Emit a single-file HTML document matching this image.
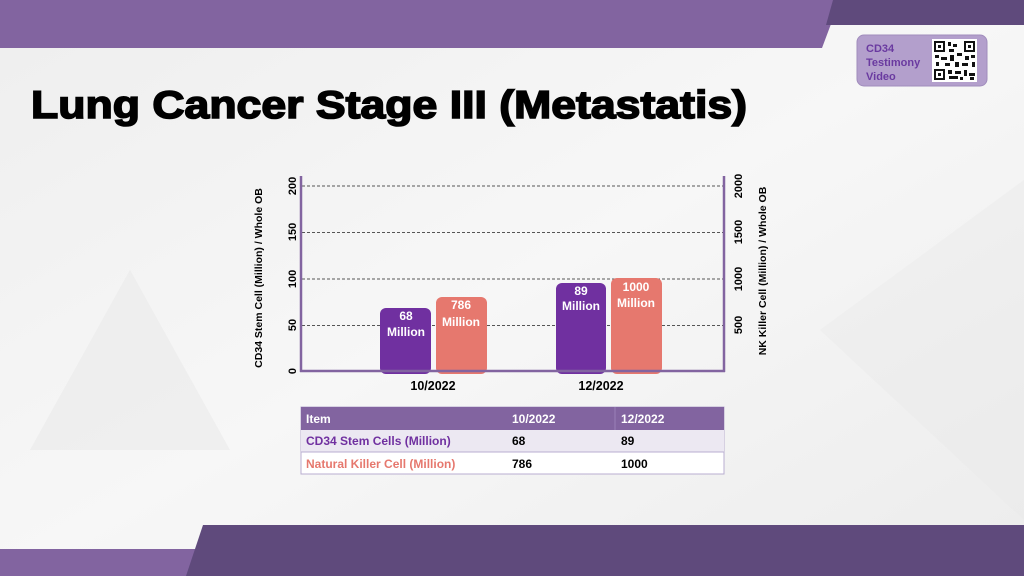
<!DOCTYPE html>
<html><head><meta charset="utf-8"><style>
html,body{margin:0;padding:0;}
body{width:1024px;height:576px;overflow:hidden;}
</style></head><body>
<svg width="1024" height="576" viewBox="0 0 1024 576" xmlns="http://www.w3.org/2000/svg" font-family="Liberation Sans, Arial, sans-serif">
<defs>
<linearGradient id="bg" x1="0" y1="0" x2="1" y2="1">
<stop offset="0" stop-color="#eeeeee"/><stop offset="0.5" stop-color="#f7f7f7"/><stop offset="1" stop-color="#ececec"/>
</linearGradient>
</defs>
<rect width="1024" height="576" fill="url(#bg)"/>
<polygon points="30,450 130,270 230,450" fill="#e8e8e8" opacity="0.5"/>
<polygon points="820,330 1024,180 1024,520" fill="#e8e8e8" opacity="0.4"/>
<polygon points="0,0 840,0 822,48 0,48" fill="#8264a0"/>
<polygon points="833,0 1024,0 1024,25 826,25" fill="#5f4a7c"/>
<rect x="0" y="549" width="200" height="27" fill="#8264a0"/>
<polygon points="203,525 1024,525 1024,576 186,576" fill="#5f4a7c"/>
<rect x="857" y="35" width="130" height="51" rx="7" fill="#b39fcc" stroke="#a08cbc"/>
<text font-family="Liberation Sans, sans-serif" font-size="11" font-weight="bold" fill="#6a3aa0"><tspan x="866" y="52">CD34</tspan><tspan x="866" y="66">Testimony</tspan><tspan x="866" y="80">Video</tspan></text>
<rect x="932" y="39" width="45" height="43" fill="#fff"/>
<g fill="#111">
<rect x="934" y="41" width="11" height="11"/><rect x="936" y="43" width="7" height="7" fill="#fff"/><rect x="938" y="45" width="3" height="3"/>
<rect x="964" y="41" width="11" height="11"/><rect x="966" y="43" width="7" height="7" fill="#fff"/><rect x="968" y="45" width="3" height="3"/>
<rect x="934" y="69" width="11" height="11"/><rect x="936" y="71" width="7" height="7" fill="#fff"/><rect x="938" y="73" width="3" height="3"/>
<rect x="948" y="42" width="3" height="4"/><rect x="953" y="44" width="4" height="3"/><rect x="949" y="49" width="5" height="3"/><rect x="935" y="55" width="4" height="3"/><rect x="941" y="57" width="6" height="3"/><rect x="950" y="55" width="4" height="6"/><rect x="957" y="53" width="5" height="3"/><rect x="965" y="56" width="4" height="4"/><rect x="971" y="55" width="4" height="3"/><rect x="936" y="62" width="3" height="4"/><rect x="945" y="63" width="5" height="3"/><rect x="955" y="62" width="4" height="5"/><rect x="962" y="63" width="6" height="3"/><rect x="972" y="62" width="3" height="5"/><rect x="948" y="70" width="4" height="4"/><rect x="955" y="71" width="6" height="3"/><rect x="964" y="70" width="3" height="6"/><rect x="969" y="73" width="6" height="3"/><rect x="949" y="76" width="9" height="3"/><rect x="960" y="77" width="3" height="3"/><rect x="970" y="77" width="4" height="3"/>
</g>
<text x="31" y="118" font-size="39" font-weight="bold" fill="#000" stroke="#000" stroke-width="1.6" textLength="716" lengthAdjust="spacingAndGlyphs">Lung Cancer Stage III (Metastatis)</text>
<g stroke="#555" stroke-dasharray="3,2" stroke-width="1">
<line x1="302" y1="186" x2="723" y2="186"/><line x1="302" y1="232.5" x2="723" y2="232.5"/><line x1="302" y1="279" x2="723" y2="279"/><line x1="302" y1="325.5" x2="723" y2="325.5"/>
</g>
<g>
<rect x="380" y="308" width="51" height="66" rx="6" fill="#7030a0"/>
<rect x="436" y="297" width="51" height="77" rx="6" fill="#e6786e"/>
<rect x="556" y="283" width="50" height="91" rx="6" fill="#7030a0"/>
<rect x="611" y="278" width="51" height="96" rx="6" fill="#e6786e"/>
</g>
<g font-size="12" font-weight="bold" fill="#fff" text-anchor="middle">
<text x="406" y="320">68</text><text x="406" y="336">Million</text>
<text x="461" y="309">786</text><text x="461" y="326">Million</text>
<text x="581" y="295">89</text><text x="581" y="310">Million</text>
<text x="636" y="291">1000</text><text x="636" y="307">Million</text>
</g>
<g stroke="#8264a0" stroke-width="2.5">
<line x1="301" y1="176" x2="301" y2="372"/><line x1="724" y1="176" x2="724" y2="372"/><line x1="300" y1="371" x2="725" y2="371"/>
</g>
<g font-size="11" font-weight="bold" fill="#000" text-anchor="middle">
<text transform="translate(296,371) rotate(-90)">0</text>
<text transform="translate(296,325) rotate(-90)">50</text>
<text transform="translate(296,279) rotate(-90)">100</text>
<text transform="translate(296,232) rotate(-90)">150</text>
<text transform="translate(296,186) rotate(-90)">200</text>
<text transform="translate(742,325) rotate(-90)">500</text>
<text transform="translate(742,279) rotate(-90)">1000</text>
<text transform="translate(742,232) rotate(-90)">1500</text>
<text transform="translate(742,186) rotate(-90)">2000</text>
<text transform="translate(262,278) rotate(-90)" font-size="10.5">CD34 Stem Cell (Million) / Whole OB</text>
<text transform="translate(766,271) rotate(-90)" font-size="10.5">NK Killer Cell (Million) / Whole OB</text>
<text x="433" y="390" font-size="12.5">10/2022</text>
<text x="601" y="390" font-size="12.5">12/2022</text>
</g>
<rect x="301" y="407" width="423" height="67" fill="#fff" stroke="#b9aed0"/>
<rect x="301" y="407" width="423" height="23" fill="#8264a0"/>
<rect x="301" y="430" width="423" height="22" fill="#ece8f2"/>
<line x1="301" y1="452" x2="724" y2="452" stroke="#b9aed0"/>
<line x1="615" y1="407" x2="615" y2="430" stroke="#9a80b8"/>
<g font-family="Liberation Sans, sans-serif" font-size="12" font-weight="bold">
<text x="306" y="423" fill="#fff">Item</text><text x="512" y="423" fill="#fff">10/2022</text><text x="621" y="423" fill="#fff">12/2022</text>
<text x="306" y="445" fill="#7030a0">CD34 Stem Cells (Million)</text><text x="512" y="445" fill="#000">68</text><text x="621" y="445" fill="#000">89</text>
<text x="306" y="468" fill="#e6786e">Natural Killer Cell (Million)</text><text x="512" y="468" fill="#000">786</text><text x="621" y="468" fill="#000">1000</text>
</g>
</svg>
</body></html>
